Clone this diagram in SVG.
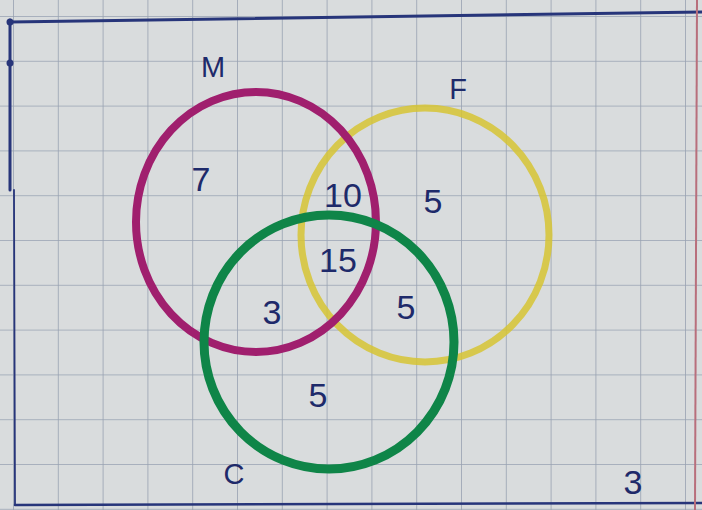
<svg xmlns="http://www.w3.org/2000/svg" width="702" height="510" viewBox="0 0 702 510">
<defs>
<pattern id="grid" x="13" y="16" width="44.8" height="44.8" patternUnits="userSpaceOnUse">
<path d="M0 0V44.8M0 0H44.8" fill="none" stroke="#98a2b2" stroke-width="1.6"/>
</pattern>
</defs>
<style>
.ink{fill:#1e2a6a;font-family:"Liberation Sans",Arial,sans-serif;text-anchor:middle}
.num{font-size:34px}
.lbl{font-size:29px}
.frame{fill:none;stroke:#27357a;stroke-linecap:round}
.set{fill:none}
</style>
<rect width="702" height="510" fill="#d9dcdd"/>
<rect width="702" height="510" fill="url(#grid)"/>
<g id="frame">
<path class="frame" d="M10 22 L702 12" stroke-width="3"/>
<path class="frame" d="M10 20 L10 190" stroke-width="3"/>
<path class="frame" d="M14 190 L15 504" stroke-width="1.8"/>
<path class="frame" d="M15 505 L702 503" stroke-width="2.5"/>
<circle cx="10" cy="22" r="3.5" fill="#27357a"/>
<circle cx="10" cy="63" r="3.5" fill="#27357a"/>
<path d="M697 0 L695 510" stroke="#b86f7c" stroke-width="2" fill="none"/>
</g>
<g id="set-F">
<ellipse class="set" cx="425" cy="235" rx="124" ry="127" stroke="#d6c434" stroke-opacity="0.85" stroke-width="7"/>
<text class="ink lbl" x="458" y="99">F</text>
</g>
<g id="set-M">
<ellipse class="set" cx="256" cy="222" rx="120" ry="130" stroke="#a01f6e" stroke-width="8"/>
<text class="ink lbl" x="213" y="77">M</text>
</g>
<g id="set-C">
<ellipse class="set" cx="329" cy="342" rx="125" ry="127" stroke="#0f8548" stroke-width="9"/>
<text class="ink lbl" x="234" y="484">C</text>
</g>
<g id="regions">
<text class="ink num" x="201" y="191">7</text>
<text class="ink num" x="343" y="207">10</text>
<text class="ink num" x="433" y="213">5</text>
<text class="ink num" x="338" y="272">15</text>
<text class="ink num" x="272" y="324">3</text>
<text class="ink num" x="406" y="319">5</text>
<text class="ink num" x="318" y="407">5</text>
<text class="ink num" x="633" y="494">3</text>
</g>
</svg>
